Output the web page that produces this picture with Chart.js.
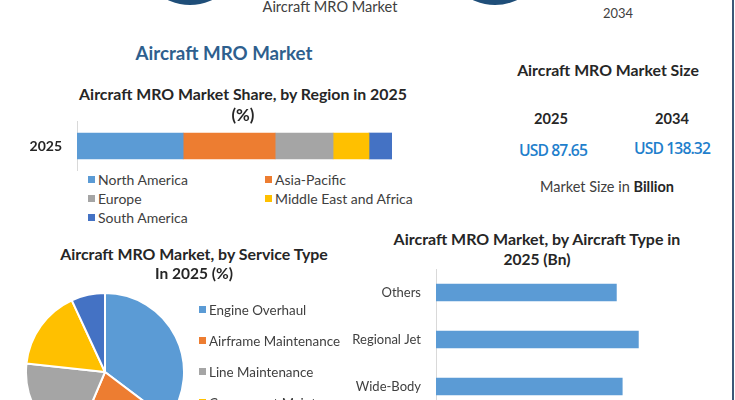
<!DOCTYPE html>
<html>
<head>
<meta charset="utf-8">
<script src="https://cdn.jsdelivr.net/npm/chart.js@4.4.1/dist/chart.umd.min.js"></script>
<style>
  body { margin: 0; background: #fff; }
  #page { position: relative; width: 735px; height: 400px; overflow: hidden; background: #fff; font-family: Lato, sans-serif; }
  .t { position: absolute; white-space: nowrap; line-height: 1; }
  canvas { position: absolute; }
  .circle { position: absolute; border-radius: 50%; background: #1f4e79; }
  .lg { position: absolute; white-space: nowrap; line-height: 1; color: #404040; }
  .lg i { display: inline-block; width: 7px; height: 7px; margin-right: 3px; vertical-align: 2px; }
</style>
</head>
<body>
<div id="page">
  <div class="circle" style="left:138px;top:-99px;width:104px;height:104px;"></div>
  <div class="circle" style="left:443px;top:-99px;width:104px;height:104px;"></div>
  <div style="position:absolute;left:732px;top:0;width:2px;height:400px;background:#3b5878;"></div>

  <canvas id="regionChart" width="372" height="50" style="left:20px;top:121px;"></canvas>
  <canvas id="serviceChart" width="160" height="160" style="left:25px;top:292px;"></canvas>
  <canvas id="typeChart" width="360" height="141" style="left:340px;top:269px;"></canvas>
</div>

<script>
// region share (%), 2025
const regionLabels = ["North America", "Asia-Pacific", "Europe", "Middle East and Africa", "South America"];
const regionShare = [33.7, 29.2, 18.4, 11.4, 7.3];
const regionYear = ["2025"];

// service type share (%), 2025
const serviceLabels = ["Engine Overhaul", "Airframe Maintenance", "Line Maintenance", "Component Maintenance", "Modifications"];
const serviceShare = [35.3, 21.1, 20.3, 16.4, 6.9];

// aircraft type (Bn), 2025
const typeLabels = ["Others", "Regional Jet", "Wide-Body"];
const typeValues = [12.3, 13.8, 12.7];

// market size
const sizeYears = ["2025", "2034"];
const sizeValues = ["USD 87.65", "USD 138.32"];

const colors = ["#5b9bd5", "#ed7d31", "#a5a5a5", "#ffc000", "#4472c4"];
const page = document.getElementById("page");

// put a line of text centred on (x, y); w = width it should take
function txt(s, x, y, w, opts) {
  opts = opts || {};
  let d = document.createElement("div");
  d.className = "t";
  d.innerHTML = s;
  d.style.fontSize = (opts.size || 14) + "px";
  d.style.fontWeight = opts.weight || "normal";
  d.style.color = opts.color || "#262626";
  if (opts.family) d.style.fontFamily = opts.family;
  if (opts.spacing) d.style.letterSpacing = opts.spacing + "px";
  page.appendChild(d);
  if (w) {
    let cur = d.getBoundingClientRect().width;
    d.style.fontSize = ((opts.size || 14) * w / cur) + "px";
  }
  let r = d.getBoundingClientRect();
  d.style.left = (x - r.width / 2) + "px";
  d.style.top = (y - r.height / 2) + "px";
  return d;
}

function legendItem(label, color, x, y, size) {
  let d = document.createElement("div");
  d.className = "lg";
  d.style.fontSize = size + "px";
  d.innerHTML = '<i style="background:' + color + '"></i>' + label;
  d.style.left = x + "px";
  d.style.top = (y - 8) + "px";
  page.appendChild(d);
}

// header bits cut off at the top
txt("Aircraft MRO Market", 330, 7, 135, { size: 14, color: "#404040" });
txt("2034", 618, 13, 30, { size: 14, color: "#404040" });

txt("Aircraft MRO Market", 224, 53, 177, { size: 19, weight: "bold", color: "#2e5f8e" });

// region chart titles + legend
txt("Aircraft MRO Market Share, by Region in 2025", 243, 94, 328, { size: 16, weight: "bold" });
txt("(%)", 243, 115, 23, { size: 16, weight: "bold" });

const legPos = [[88, 181], [265, 181], [88, 200], [265, 200], [88, 219]];
regionLabels.forEach((l, i) => legendItem(l, colors[i], legPos[i][0], legPos[i][1], 14));

// market size panel
txt("Aircraft MRO Market Size", 608, 70, 182, { size: 15, weight: "bold" });
txt(sizeYears[0], 551, 119, 34, { size: 15, weight: "bold" });
txt(sizeYears[1], 672, 119, 34, { size: 15, weight: "bold" });
const usd = { size: 14, weight: 600, color: "#1f80cc", family: "'Open Sans', sans-serif", spacing: -0.9 };
txt(sizeValues[0], 553, 151, 67, usd);
txt(sizeValues[1], 672, 149, 75, usd);
txt("Market Size in <b style='color:#262626'>Billion</b>", 607, 187, 134, { size: 13, color: "#404040" });

// service type titles + legend
txt("Aircraft MRO Market, by Service Type", 194, 254, 268, { size: 16, weight: "bold" });
txt("In 2025 (%)", 194, 274, 78, { size: 16, weight: "bold" });
serviceLabels.forEach((l, i) => legendItem(l, colors[i], 199, 312 + i * 31, 13.4));

// aircraft type titles
txt("Aircraft MRO Market, by Aircraft Type in", 537, 239, 287, { size: 16, weight: "bold" });
txt("2025 (Bn)", 537, 260, 67, { size: 16, weight: "bold" });

const noTip = { legend: { display: false }, tooltip: { enabled: false } };

// fixed axis width, and no extra label padding eating into the plot height
function fixAxis(w) {
  return (s) => { s.width = w; s.paddingTop = 0; s.paddingBottom = 0; };
}

new Chart(document.getElementById("regionChart"), {
  type: "bar",
  data: {
    labels: regionYear,
    datasets: regionLabels.map((l, i) => ({
      label: l,
      data: [regionShare[i]],
      backgroundColor: colors[i],
      stack: "s",
      barThickness: 26,
    })),
  },
  options: {
    indexAxis: "y",
    responsive: false,
    animation: false,
    plugins: noTip,
    scales: {
      x: { stacked: true, display: false, min: 0, max: 100 },
      y: {
        stacked: true,
        grid: { display: false, drawTicks: false },
        border: { color: "#d9d9d9" },
        ticks: { padding: 15, color: "#262626", font: { family: "Lato", size: 14, weight: "bold" } },
        afterFit: fixAxis(57),
      },
    },
  },
});

new Chart(document.getElementById("serviceChart"), {
  type: "pie",
  data: {
    labels: serviceLabels,
    datasets: [{ data: serviceShare, backgroundColor: colors, borderColor: "#fff", borderWidth: 2 }],
  },
  options: { responsive: false, animation: false, plugins: noTip },
});

new Chart(document.getElementById("typeChart"), {
  type: "bar",
  data: {
    labels: typeLabels,
    datasets: [{ data: typeValues, backgroundColor: "#5b9bd5", barThickness: 17 }],
  },
  options: {
    indexAxis: "y",
    responsive: false,
    animation: false,
    plugins: noTip,
    scales: {
      x: { display: false, min: 0, max: 18 },
      y: {
        grid: { display: false, drawTicks: false },
        border: { color: "#d9d9d9" },
        ticks: { padding: 15, color: "#404040", font: { family: "Lato", size: 13 } },
        afterFit: fixAxis(96),
      },
    },
  },
});
</script>
</body>
</html>
